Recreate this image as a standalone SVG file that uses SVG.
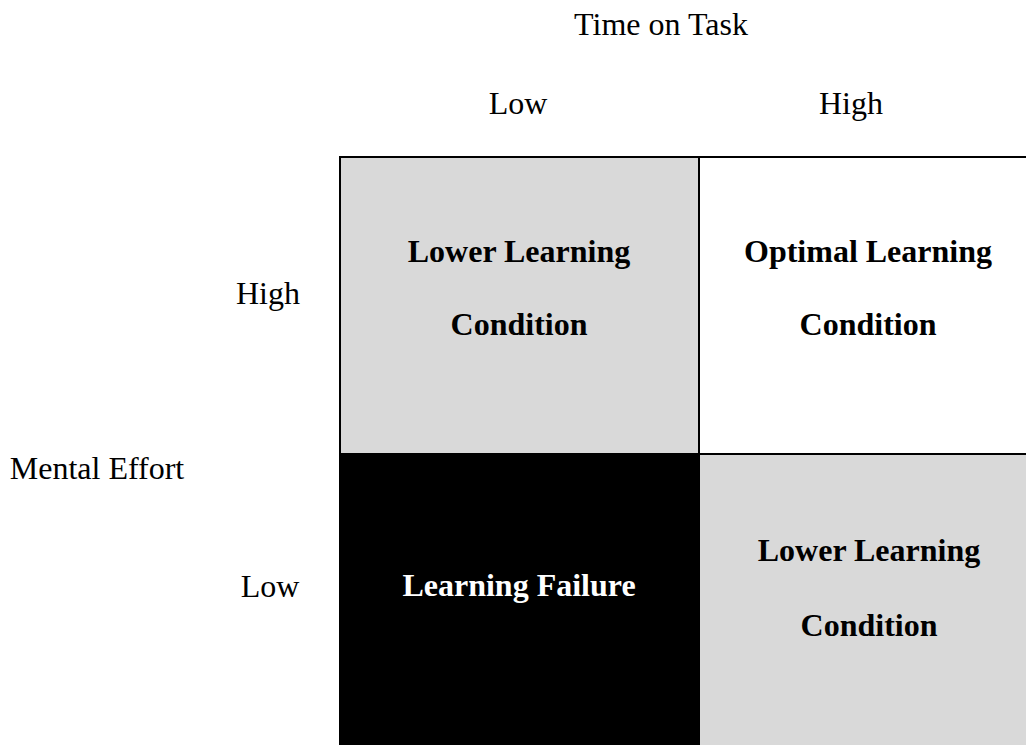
<svg xmlns="http://www.w3.org/2000/svg" width="1026" height="745" viewBox="0 0 1026 745">
<style>
text{font-family:"Liberation Serif","Times New Roman",serif;font-size:32px;text-anchor:middle;fill:#000}
.b{font-weight:bold}
.w{fill:#fff}
</style>
<rect width="1026" height="745" fill="#fff"/>
<g id="labels">
<text x="661" y="35">Time on Task</text>
<text x="518" y="114">Low</text>
<text x="851" y="114">High</text>
<text x="268" y="304">High</text>
<text x="97" y="479">Mental Effort</text>
<text x="270" y="597">Low</text>
</g>
<g id="cell-tl">
<rect x="340" y="157" width="359" height="297" fill="#d9d9d9" stroke="#000" stroke-width="2"/>
<text class="b" x="519" y="262">Lower Learning</text>
<text class="b" x="519" y="335">Condition</text>
</g>
<g id="cell-tr">
<rect x="699" y="157" width="340" height="297" fill="#fff" stroke="#000" stroke-width="2"/>
<text class="b" x="868" y="262">Optimal Learning</text>
<text class="b" x="868" y="335">Condition</text>
</g>
<g id="cell-bl">
<rect x="339" y="453" width="361" height="300" fill="#000"/>
<text class="b w" x="519" y="596">Learning Failure</text>
</g>
<g id="cell-br">
<rect x="700" y="455" width="330" height="300" fill="#d9d9d9"/>
<text class="b" x="869" y="561">Lower Learning</text>
<text class="b" x="869" y="636">Condition</text>
</g>
<g id="connectors"/>
</svg>
